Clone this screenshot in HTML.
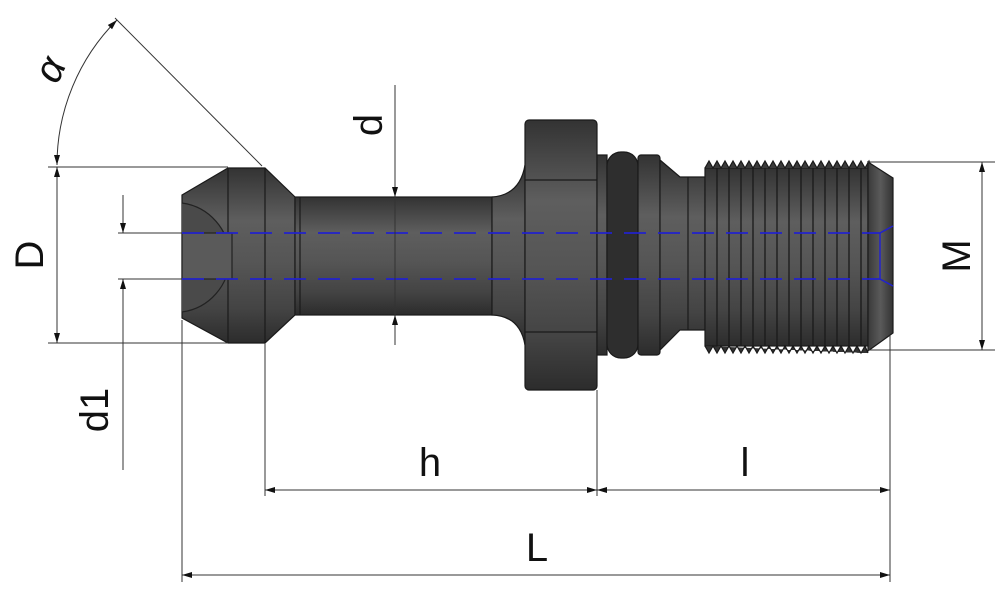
<!DOCTYPE html>
<html><head><style>body{margin:0;background:#fff}svg{display:block}text{font-family:"Liberation Sans",sans-serif;fill:#111}</style></head>
<body>
<svg width="1000" height="598" viewBox="0 0 1000 598" xmlns="http://www.w3.org/2000/svg">
<defs>
<linearGradient id="g" x1="0" y1="0" x2="0" y2="1">
<stop offset="0" stop-color="#333"/><stop offset="0.3" stop-color="#5e5e5e"/><stop offset="0.55" stop-color="#555"/><stop offset="0.8" stop-color="#444"/><stop offset="1" stop-color="#2c2c2c"/></linearGradient>
<linearGradient id="gh" x1="0" y1="0" x2="1" y2="0">
<stop offset="0" stop-color="#3a3a3a"/><stop offset="0.5" stop-color="#5a5a5a"/><stop offset="1" stop-color="#333"/></linearGradient>
<marker id="a" viewBox="0 0 10 10" refX="10" refY="5" markerWidth="12" markerHeight="10" orient="auto-start-reverse" markerUnits="userSpaceOnUse"><path d="M0,2 L10,5 L0,8 z" fill="#111"/></marker>
</defs>
<g stroke="#1a1a1a" stroke-width="1.2">
<path d="M182,195 L228,168 L265,168 L295,197 L295,315 L265,343 L228,343 L182,318 Z" fill="url(#g)"/>
<line x1="228" y1="168" x2="228" y2="343"/><line x1="265" y1="168" x2="265" y2="343"/>
<path d="M182,203 A55,55 0 0 1 182,312" fill="#4a4a4a" stroke="#222"/>
<rect x="182" y="233" width="50" height="46" fill="#5a5a5a" stroke="#222"/>
<rect x="295" y="197" width="197" height="118" fill="url(#g)"/>
<line x1="300" y1="197" x2="300" y2="315"/>
<path d="M492,197 Q520,195 525,165 L525,345 Q520,316 492,315 Z" fill="url(#g)"/>
<rect x="525" y="120" width="72" height="270" rx="4" fill="url(#g)"/>
<line x1="525" y1="180" x2="597" y2="180"/><line x1="525" y1="332" x2="597" y2="332"/>
<rect x="597" y="155" width="10" height="200" fill="url(#g)"/>
<rect x="607" y="152" width="31" height="206" rx="14" fill="#2e2e2e"/>
<rect x="638" y="155" width="22" height="200" rx="3" fill="url(#g)"/>
<path d="M660,160 L680,177 L705,177 L705,330 L680,330 L660,350 Z" fill="url(#g)"/>
<line x1="688" y1="177" x2="688" y2="330"/>
<rect x="705" y="168" width="163" height="178" fill="url(#g)"/>
<path d="M705,168 l4,-7 l4,7 l4,-7 l4,7 l4,-7 l4,7 l4,-7 l4,7 l4,-7 l4,7 l4,-7 l4,7 l4,-7 l4,7 l4,-7 l4,7 l4,-7 l4,7 l4,-7 l4,7 l4,-7 l4,7 l4,-7 l4,7 l4,-7 l4,7 l4,-7 l4,7 l4,-7 l4,7 l4,-7 l4,7 l4,-7 l4,7 l4,-7 l4,7 l4,-7 l4,7 l4,-7 l4,7 l4,-7 l3,7" fill="#3a3a3a"/>
<path d="M705,346 l4,7 l4,-7 l4,7 l4,-7 l4,7 l4,-7 l4,7 l4,-7 l4,7 l4,-7 l4,7 l4,-7 l4,7 l4,-7 l4,7 l4,-7 l4,7 l4,-7 l4,7 l4,-7 l4,7 l4,-7 l4,7 l4,-7 l4,7 l4,-7 l4,7 l4,-7 l4,7 l4,-7 l4,7 l4,-7 l4,7 l4,-7 l4,7 l4,-7 l4,7 l4,-7 l4,7 l4,-7 l3,7" fill="#333"/>
<g stroke="#1a1a1a" stroke-width="1.3">
<line x1="717" y1="168" x2="717" y2="346"/><line x1="729" y1="168" x2="729" y2="346"/><line x1="741" y1="168" x2="741" y2="346"/><line x1="753" y1="168" x2="753" y2="346"/><line x1="765" y1="168" x2="765" y2="346"/><line x1="777" y1="168" x2="777" y2="346"/><line x1="789" y1="168" x2="789" y2="346"/><line x1="801" y1="168" x2="801" y2="346"/><line x1="813" y1="168" x2="813" y2="346"/><line x1="825" y1="168" x2="825" y2="346"/><line x1="837" y1="168" x2="837" y2="346"/><line x1="849" y1="168" x2="849" y2="346"/><line x1="861" y1="168" x2="861" y2="346"/></g>
<path d="M868,162 L893,178 L893,333 L868,351 Z" fill="url(#gh)"/>
</g>
<g stroke="#2222cc" stroke-width="1.8" stroke-dasharray="22,12">
<line x1="182" y1="233" x2="880" y2="233"/><line x1="182" y1="279" x2="880" y2="279"/></g>
<path d="M893,226 L880,233 L880,279 L893,286" fill="none" stroke="#2222cc" stroke-width="1.5"/>
<g stroke="#333" stroke-width="1" fill="none">
<line x1="48" y1="167" x2="228" y2="167"/><line x1="48" y1="343" x2="228" y2="343"/>
<line x1="57" y1="167" x2="57" y2="343" marker-start="url(#a)" marker-end="url(#a)"/>
<line x1="118" y1="233" x2="182" y2="233"/><line x1="118" y1="279" x2="182" y2="279"/>
<line x1="123" y1="195" x2="123" y2="233" marker-end="url(#a)"/><line x1="123" y1="470" x2="123" y2="279" marker-end="url(#a)"/>
<line x1="262" y1="166" x2="115" y2="18"/>
<path d="M57,165 A205,205 0 0 1 117,20" marker-start="url(#a)" marker-end="url(#a)"/>
<line x1="395" y1="85" x2="395" y2="197" marker-end="url(#a)"/><line x1="395" y1="345" x2="395" y2="315" marker-end="url(#a)"/>
<line x1="395" y1="197" x2="395" y2="315"/>
<line x1="868" y1="162" x2="995" y2="162"/><line x1="868" y1="350" x2="995" y2="350"/>
<line x1="982" y1="162" x2="982" y2="350" marker-start="url(#a)" marker-end="url(#a)"/>
<line x1="265" y1="343" x2="265" y2="496"/><line x1="597" y1="390" x2="597" y2="496"/>
<line x1="890" y1="335" x2="890" y2="582"/><line x1="182" y1="320" x2="182" y2="582"/>
<line x1="265" y1="490" x2="597" y2="490" marker-start="url(#a)" marker-end="url(#a)"/>
<line x1="597" y1="490" x2="890" y2="490" marker-start="url(#a)" marker-end="url(#a)"/>
<line x1="182" y1="575" x2="890" y2="575" marker-start="url(#a)" marker-end="url(#a)"/>
</g>
<g font-size="40">
<text transform="translate(43,255) rotate(-90)" text-anchor="middle">D</text>
<text transform="translate(108,410) rotate(-90)" text-anchor="middle">d1</text>
<text transform="translate(382,125) rotate(-90)" text-anchor="middle">d</text>
<text transform="translate(970,256) rotate(-90)" text-anchor="middle">M</text>
<text x="430" y="476" text-anchor="middle">h</text>
<text x="745" y="476" text-anchor="middle">l</text>
<text x="537" y="561" text-anchor="middle">L</text>
<text transform="translate(62,75) rotate(-65)" text-anchor="middle" font-style="italic">α</text>
</g>
</svg>
</body></html>
